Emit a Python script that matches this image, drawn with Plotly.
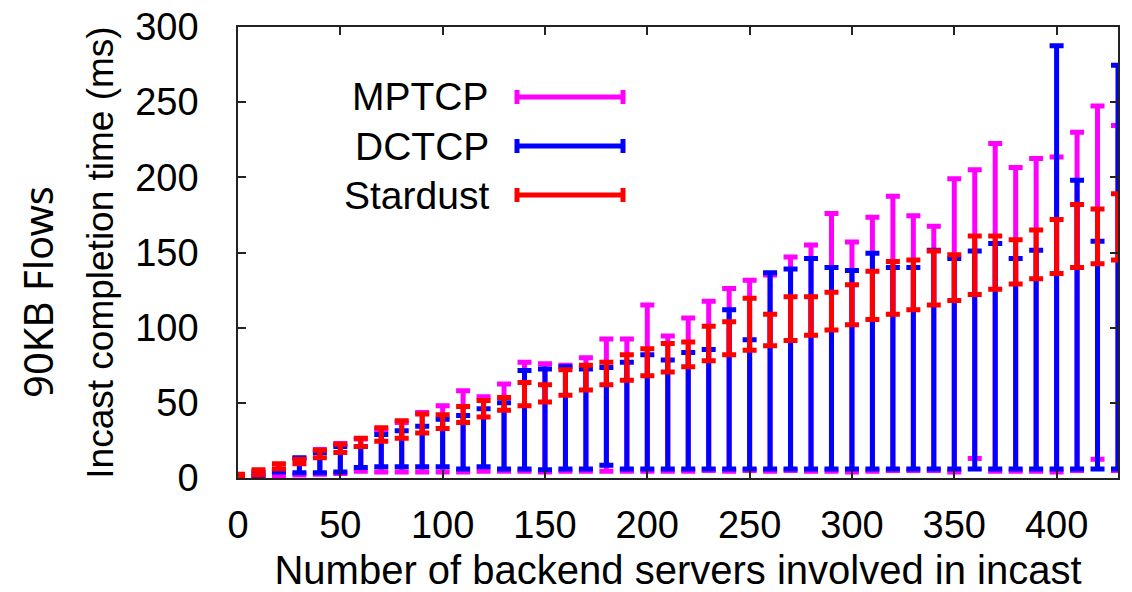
import plotly.graph_objects as go

# ---------------- data ----------------
servers = [0, 10, 20, 30, 40, 50, 60, 70, 80, 90, 100, 110, 120, 130, 140, 150, 160, 170,
           180, 190, 200, 210, 220, 230, 240, 250, 260, 270, 280, 290, 300, 310, 320, 330,
           340, 350, 360, 370, 380, 390, 400, 410, 420, 430]

mptcp_low = [0, 0.5, 1.5, 2, 2.5, 3, 4.5, 4, 4, 4, 4, 4, 4.5, 4.5, 4.5, 4, 4.5, 4.5,
             4.5, 4.5, 4.5, 4.5, 4.5, 5, 4.5, 5, 4.5, 5, 4.5, 4.5, 4, 4.5, 5, 5,
             5, 4, 13, 4.5, 4.5, 4.5, 4, 5, 12.5, 5]
mptcp_high = [1, 2, 4, 13, 19, 23, 26, 32, 37, 43.5, 48, 58, 54, 62.5, 77, 76, 75, 80,
              92.5, 92.5, 115, 94.5, 106.5, 117.5, 126, 131.5, 135, 147, 155, 176, 157, 173.5, 187.5, 174.5,
              167.5, 199, 205, 222.5, 206.5, 212.5, 213.5, 230, 247.5, 234.5]

dctcp_low = [0, 1, 4, 3.5, 3.5, 4, 7, 7.5, 7.5, 7.5, 7.5, 6, 7.5, 6, 6, 5.5, 6, 6,
             8.5, 6, 6, 6, 6, 6, 6, 6, 6, 6, 6, 6, 6, 6, 6, 6,
             6, 6, 6, 6, 6, 6, 6, 6, 6, 6]
dctcp_high = [1, 4, 5, 13.5, 17, 21, 21, 29, 31.5, 34.5, 39, 41.5, 46, 50, 71.5, 72.5, 74, 72.5,
              73.5, 77, 82, 78.5, 83.5, 85.5, 112, 92, 136.5, 139, 146, 140, 138, 149.5, 140, 140,
              151.5, 146, 151, 156, 146, 151.5, 287.5, 198, 157.5, 274.5]

stardust_low = [0.5, 2, 6, 9.5, 13.5, 17, 21, 24.5, 26.5, 30, 33, 37, 40.5, 45, 48, 50.5, 55, 58.5,
                62, 65, 68, 70.5, 74, 78, 82, 85, 88, 91.5, 95, 98.5, 102, 105.5, 109, 112,
                115, 118, 122, 125.5, 129, 132.5, 136, 140, 142.5, 145]
stardust_high = [2.5, 5.5, 9.5, 12.5, 18.5, 22.5, 26.5, 33.5, 38, 42.5, 42, 47.5, 51.5, 53.5, 63.5, 62, 72, 75,
                 77, 82, 86, 89.5, 90.5, 101, 104, 119.5, 109, 120.5, 120.5, 123.5, 128.5, 137.5, 144, 145,
                 151, 148.5, 161, 161, 158.5, 165, 172, 182, 179, 189]

series = [
    ("MPTCP", mptcp_low, mptcp_high, "#ff00ff"),
    ("DCTCP", dctcp_low, dctcp_high, "#0000ff"),
    ("Stardust", stardust_low, stardust_high, "#ff0000"),
]

# ---------------- layout constants (pixels) ----------------
W, H = 1132, 592
L, R, T, B = 238, 14, 27, 114
PW, PH = W - L - R, H - T - B

def px(x):
    return (x - L) / PW

def py(y):
    return (H - B - y) / PH

FONT = "Liberation Sans, Arial, sans-serif"
BAR_W = 5
CAP_W = 7

fig = go.Figure()
for name, lo, hi, col in series:
    mid = [(a + b) / 2 for a, b in zip(lo, hi)]
    up = [b - m for b, m in zip(hi, mid)]
    dn = [m - a for a, m in zip(lo, mid)]
    fig.add_trace(go.Scatter(
        x=servers, y=mid, name=name, mode="markers",
        marker=dict(size=1, color="rgba(0,0,0,0)"),
        error_y=dict(type="data", symmetric=False, array=up, arrayminus=dn,
                     color=col, thickness=BAR_W, width=CAP_W),
        showlegend=False, cliponaxis=True,
    ))

# custom legend (gnuplot style)
legend_rows = [(97, "MPTCP", "#ff00ff"), (146, "DCTCP", "#0000ff"), (195, "Stardust", "#ff0000")]
shapes = []
annotations = []
for yy, name, col in legend_rows:
    annotations.append(dict(x=px(491), y=py(yy), xref="paper", yref="paper", text=name,
                            showarrow=False, xanchor="right", yanchor="middle",
                            font=dict(family=FONT, size=39, color="black")))
    shapes.append(dict(type="line", xref="paper", yref="paper", x0=px(517), x1=px(623),
                       y0=py(yy), y1=py(yy), line=dict(color=col, width=BAR_W)))
    for xx in (517, 623):
        shapes.append(dict(type="line", xref="paper", yref="paper", x0=px(xx), x1=px(xx),
                           y0=py(yy - 7), y1=py(yy + 7), line=dict(color=col, width=BAR_W)))

annotations.append(dict(x=px(37), y=py(292), xref="paper", yref="paper", text="90KB Flows",
                        showarrow=False, textangle=-90, xanchor="center", yanchor="middle",
                        font=dict(family="Noto Sans, sans-serif", size=40, color="black")))

fig.update_layout(
    width=W, height=H,
    margin=dict(l=L, r=R, t=T, b=B, pad=0, autoexpand=False),
    paper_bgcolor="white", plot_bgcolor="white",
    font=dict(family=FONT, size=38, color="black"),
    shapes=shapes, annotations=annotations,
    showlegend=False,
)
fig.update_xaxes(
    range=[0, 430], tickvals=[0, 50, 100, 150, 200, 250, 300, 350, 400],
    ticks="inside", ticklen=8, tickwidth=1.5, tickcolor="#222",
    showline=True, linecolor="#222", linewidth=1.5, mirror="allticks",
    showgrid=False, zeroline=False, automargin=False,
    tickfont=dict(family=FONT, size=38), ticklabelstandoff=13,
    title=dict(text="Number of backend servers involved in incast",
               font=dict(family=FONT, size=40), standoff=15),
)
fig.update_yaxes(
    range=[0, 300], tickvals=[0, 50, 100, 150, 200, 250, 300],
    ticks="inside", ticklen=8, tickwidth=1.5, tickcolor="#222",
    showline=True, linecolor="#222", linewidth=1.5, mirror="allticks",
    showgrid=False, zeroline=False, automargin=False,
    tickfont=dict(family=FONT, size=38), ticklabelstandoff=30,
    title=dict(text="Incast completion time (ms)",
               font=dict(family=FONT, size=37), standoff=10),
)

fig.write_html("out.html")
